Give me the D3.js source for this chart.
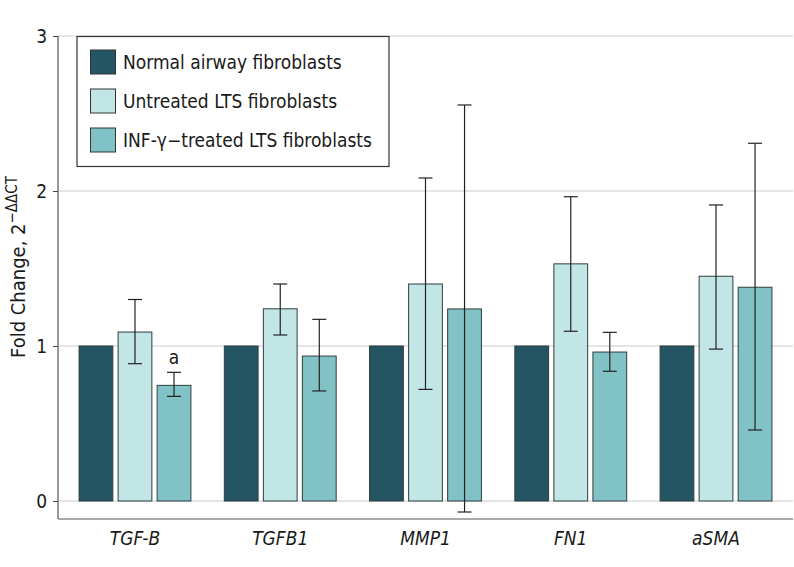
<!DOCTYPE html>
<html>
<head>
<meta charset="utf-8">
<script src="https://cdn.jsdelivr.net/npm/d3@7"></script>
<style>
  body { margin: 0; background: #fff; }
  text { font-family: "DejaVu Sans Condensed", "DejaVu Sans", sans-serif; fill: #1a1a1a; }
</style>
</head>
<body>
<script>
var genes = ["TGF-B", "TGFB1", "MMP1", "FN1", "aSMA"];
var groups = ["Normal airway fibroblasts", "Untreated LTS fibroblasts", "INF-\u03b3\u2212treated LTS fibroblasts"];
var colors = ["#235563", "#c2e6e6", "#80c2c6"];
var normalVals = [1, 1, 1, 1, 1];
var untreatedVals = [1.09, 1.24, 1.40, 1.53, 1.45];
var untreatedLo = [0.886, 1.071, 0.72, 1.095, 0.98];
var untreatedHi = [1.30, 1.40, 2.084, 1.963, 1.91];
var treatedVals = [0.746, 0.935, 1.239, 0.961, 1.379];
var treatedLo = [0.675, 0.71, -0.071, 0.837, 0.458];
var treatedHi = [0.83, 1.172, 2.555, 1.088, 2.308];
var yTicks = [0, 1, 2, 3];

var width = 794, height = 567;
var svg = d3.select("body").append("svg").attr("width", width).attr("height", height);

var x = d3.scaleBand().domain(genes).range([58, 793]).paddingInner(0.23).paddingOuter(0.145);
var xs = d3.scaleBand().domain([0, 1, 2]).range([0, x.bandwidth()]).paddingInner(0.135);
var y = d3.scaleLinear().domain([0, 3]).range([501, 36]);

var series = [
  { vals: normalVals },
  { vals: untreatedVals, lo: untreatedLo, hi: untreatedHi },
  { vals: treatedVals, lo: treatedLo, hi: treatedHi }
];

// grid
svg.append("g").selectAll("line").data(yTicks).enter().append("line")
  .attr("x1", 58).attr("x2", 793)
  .attr("y1", function(d){ return y(d); }).attr("y2", function(d){ return y(d); })
  .attr("stroke", "#dcdcdc").attr("stroke-width", 1.5);

// axes
var yAxis = svg.append("g").attr("transform", "translate(58,0)")
  .call(d3.axisLeft(y).tickValues(yTicks).tickFormat(d3.format("d")).tickSize(5).tickSizeOuter(0).tickPadding(6));
yAxis.select(".domain").remove();
yAxis.selectAll("line").attr("stroke", "#444");
yAxis.selectAll("text").attr("font-size", 19).attr("fill", "#1a1a1a");
svg.append("line").attr("x1", 58).attr("x2", 58).attr("y1", 36).attr("y2", 519).attr("stroke", "#555").attr("stroke-width", 1.2);
svg.append("line").attr("x1", 58).attr("x2", 793).attr("y1", 519).attr("y2", 519).attr("stroke", "#555").attr("stroke-width", 1.2);

svg.append("g").selectAll("text").data(genes).enter().append("text")
  .attr("x", function(d){ return x(d) + x.bandwidth() / 2; })
  .attr("y", 545)
  .attr("text-anchor", "middle").attr("font-size", 19).attr("font-style", "italic")
  .text(function(d){ return d; });

// y label
var yl = svg.append("text").attr("transform", "translate(25,267) rotate(-90)")
  .attr("text-anchor", "middle").attr("font-size", 20);
yl.append("tspan").text("Fold Change, 2");
yl.append("tspan").attr("dy", -8).attr("font-size", 15).text("\u2212\u0394\u0394CT");

// bars
series.forEach(function(s, i){
  var g = svg.append("g");
  g.selectAll("rect").data(genes).enter().append("rect")
    .attr("x", function(d){ return x(d) + xs(i); })
    .attr("width", xs.bandwidth())
    .attr("y", function(d, j){ return y(s.vals[j]); })
    .attr("height", function(d, j){ return y(0) - y(s.vals[j]); })
    .attr("fill", colors[i]).attr("stroke", "#2f3d3f").attr("stroke-width", 1);
  if (s.lo) {
    genes.forEach(function(d, j){
      var cx = x(d) + xs(i) + xs.bandwidth() / 2;
      g.append("line").attr("x1", cx).attr("x2", cx)
        .attr("y1", y(s.lo[j])).attr("y2", y(s.hi[j]))
        .attr("stroke", "#222").attr("stroke-width", 1.2);
      [s.lo[j], s.hi[j]].forEach(function(v){
        g.append("line").attr("x1", cx - 7).attr("x2", cx + 7)
          .attr("y1", y(v)).attr("y2", y(v))
          .attr("stroke", "#222").attr("stroke-width", 1.2);
      });
    });
  }
});

// significance mark
svg.append("text")
  .attr("x", x("TGF-B") + xs(2) + xs.bandwidth() / 2)
  .attr("y", y(treatedHi[0]) - 8)
  .attr("text-anchor", "middle").attr("font-size", 19).text("a");

// legend
var leg = svg.append("g");
leg.append("rect").attr("x", 77).attr("y", 36.5).attr("width", 312).attr("height", 130)
  .attr("fill", "#fff").attr("stroke", "#333").attr("stroke-width", 1.2);
groups.forEach(function(gname, i){
  var yy = 50 + i * 39;
  leg.append("rect").attr("x", 90.5).attr("y", yy).attr("width", 25).attr("height", 24)
    .attr("fill", colors[i]).attr("stroke", "#333").attr("stroke-width", 1);
  leg.append("text").attr("x", 123).attr("y", yy + 19).attr("font-size", 19).text(gname);
});
</script>
</body>
</html>
